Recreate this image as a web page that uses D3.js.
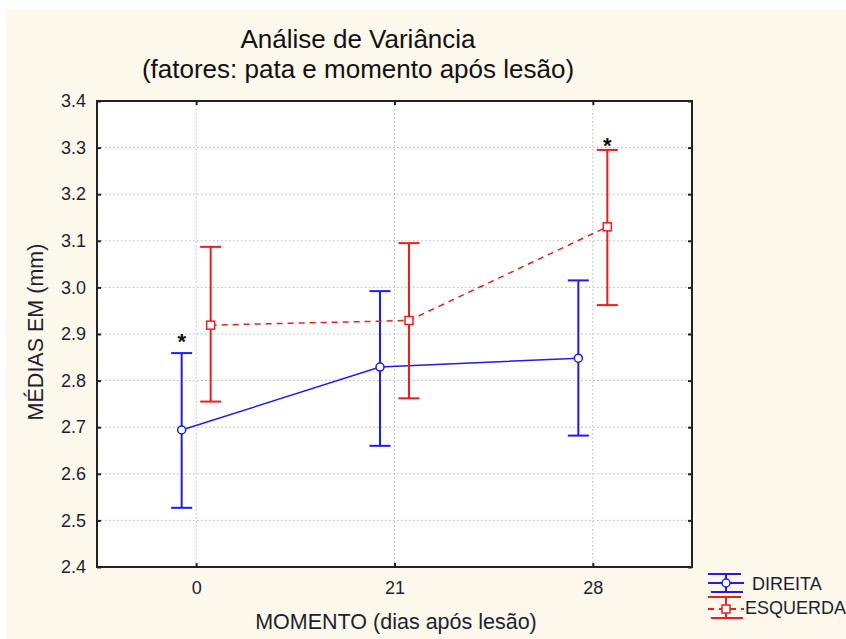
<!DOCTYPE html>
<html>
<head>
<meta charset="utf-8">
<script src="https://cdn.jsdelivr.net/npm/d3@7"></script>
<style>
  html, body { margin: 0; padding: 0; background: #fff; }
  text { font-family: "Liberation Sans", Arial, sans-serif; }
</style>
</head>
<body>
<div id="chart"></div>
<script>
const width = 846;
const height = 639;

// data
const moments = ['0', '21', '28'];
const direitaMean = [2.694, 2.829, 2.848];
const direitaLow = [2.527, 2.660, 2.682];
const direitaHigh = [2.859, 2.992, 3.015];
const esquerdaMean = [2.919, 2.929, 3.130];
const esquerdaLow = [2.755, 2.762, 2.962];
const esquerdaHigh = [3.087, 3.095, 3.295];
const yTicks = [2.4, 2.5, 2.6, 2.7, 2.8, 2.9, 3.0, 3.1, 3.2, 3.3, 3.4];
const starMarks = [{ serie: 'direita', moment: '0', value: 2.896 }, { serie: 'esquerda', moment: '28', value: 3.316 }];

const margin = { left: 97, right: 154, top: 101, bottom: 72 };

const svg = d3.select('#chart')
  .append('svg')
  .attr('width', width)
  .attr('height', height);

// cream background
svg.append('rect')
  .attr('x', 6).attr('y', 10)
  .attr('width', width - 6).attr('height', height - 10)
  .attr('fill', '#fdf8ec');

const x = d3.scalePoint()
  .domain(moments)
  .range([margin.left, width - margin.right])
  .padding(0.5);

const y = d3.scaleLinear()
  .domain([2.4, 3.4])
  .range([height - margin.bottom, margin.top]);

const x0 = margin.left, x1 = width - margin.right;
const y0 = height - margin.bottom, y1 = margin.top;

svg.append('rect')
  .attr('x', x0).attr('y', y1)
  .attr('width', x1 - x0).attr('height', y0 - y1)
  .attr('fill', '#fff');

// grid
const grid = svg.append('g')
  .attr('stroke', '#b8b8b8')
  .attr('stroke-width', 1)
  .attr('stroke-dasharray', '1.5,2.5');

grid.selectAll('.gy')
  .data(yTicks.slice(1, -1))
  .join('line')
  .attr('x1', x0).attr('x2', x1)
  .attr('y1', d => y(d)).attr('y2', d => y(d));

grid.selectAll('.gx')
  .data(moments)
  .join('line')
  .attr('x1', d => x(d)).attr('x2', d => x(d))
  .attr('y1', y1).attr('y2', y0);

// axes (ticks inside)
svg.append('g')
  .attr('transform', `translate(${x0},0)`)
  .call(d3.axisLeft(y).tickValues(yTicks).tickSize(-4).tickFormat(d3.format('.1f')).tickPadding(11))
  .call(g => g.select('.domain').remove())
  .call(g => g.selectAll('line').attr('stroke', '#222').attr('stroke-width', 2))
  .call(g => g.selectAll('text').attr('font-size', 18).attr('fill', '#1e1e30'));

svg.append('g')
  .attr('transform', `translate(${x1},0)`)
  .call(d3.axisRight(y).tickValues(yTicks).tickSize(-4).tickFormat(''))
  .call(g => g.select('.domain').remove())
  .call(g => g.selectAll('line').attr('stroke', '#222').attr('stroke-width', 2));

svg.append('g')
  .attr('transform', `translate(0,${y0})`)
  .call(d3.axisBottom(x).tickSize(-4).tickPadding(14))
  .call(g => g.select('.domain').remove())
  .call(g => g.selectAll('line').attr('stroke', '#222').attr('stroke-width', 2))
  .call(g => g.selectAll('text').attr('font-size', 18).attr('fill', '#1e1e30'));

svg.append('g')
  .attr('transform', `translate(0,${y1})`)
  .call(d3.axisTop(x).tickSize(-4).tickFormat(''))
  .call(g => g.select('.domain').remove())
  .call(g => g.selectAll('line').attr('stroke', '#222').attr('stroke-width', 2));

svg.append('rect')
  .attr('x', x0).attr('y', y1)
  .attr('width', x1 - x0).attr('height', y0 - y1)
  .attr('fill', 'none')
  .attr('stroke', '#222')
  .attr('stroke-width', 2);

// series
const series = [
  { name: 'DIREITA', key: 'direita', color: '#1c1cf5', dx: -14.5, dash: null, shape: 'circle',
    mean: direitaMean, low: direitaLow, high: direitaHigh },
  { name: 'ESQUERDA', key: 'esquerda', color: '#f21c1c', dx: 14.5, dash: '6,5', shape: 'square',
    mean: esquerdaMean, low: esquerdaLow, high: esquerdaHigh }
];

const cap = 10.5;

series.forEach(s => {
  const pts = moments.map((m, i) => ({ m, mean: s.mean[i], low: s.low[i], high: s.high[i] }));
  const g = svg.append('g');

  g.append('path')
    .datum(pts)
    .attr('fill', 'none')
    .attr('stroke', s.color)
    .attr('stroke-width', 1.5)
    .attr('stroke-dasharray', s.dash)
    .attr('d', d3.line().x(d => x(d.m) + s.dx).y(d => y(d.mean)));

  const bars = g.selectAll('.bar').data(pts).join('g')
    .attr('stroke', s.color).attr('stroke-width', 2);
  bars.append('line')
    .attr('x1', d => x(d.m) + s.dx).attr('x2', d => x(d.m) + s.dx)
    .attr('y1', d => y(d.low)).attr('y2', d => y(d.high));
  bars.append('line')
    .attr('x1', d => x(d.m) + s.dx - cap).attr('x2', d => x(d.m) + s.dx + cap)
    .attr('y1', d => y(d.low)).attr('y2', d => y(d.low));
  bars.append('line')
    .attr('x1', d => x(d.m) + s.dx - cap).attr('x2', d => x(d.m) + s.dx + cap)
    .attr('y1', d => y(d.high)).attr('y2', d => y(d.high));

  if (s.shape === 'circle') {
    g.selectAll('.pt').data(pts).join('circle')
      .attr('cx', d => x(d.m) + s.dx).attr('cy', d => y(d.mean))
      .attr('r', 4).attr('fill', '#fff').attr('stroke', s.color).attr('stroke-width', 1.5);
  } else {
    g.selectAll('.pt').data(pts).join('rect')
      .attr('x', d => x(d.m) + s.dx - 4).attr('y', d => y(d.mean) - 4)
      .attr('width', 8).attr('height', 8)
      .attr('fill', '#fff').attr('stroke', s.color).attr('stroke-width', 1.5);
  }
});

// significance stars (value = centre of the star)
svg.selectAll('.star')
  .data(starMarks)
  .join('text')
  .attr('x', d => x(d.moment) + series.find(s => s.key === d.serie).dx)
  .attr('y', d => y(d.value) + 13)
  .attr('text-anchor', 'middle')
  .attr('font-size', 22)
  .attr('font-weight', 'bold')
  .attr('fill', '#111')
  .text('*');

// titles
svg.append('text')
  .attr('x', 358).attr('y', 48)
  .attr('text-anchor', 'middle')
  .attr('font-size', 26)
  .attr('fill', '#111')
  .text('Análise de Variância');

svg.append('text')
  .attr('x', 358).attr('y', 78)
  .attr('text-anchor', 'middle')
  .attr('font-size', 26)
  .attr('fill', '#111')
  .text('(fatores: pata e momento após lesão)');

svg.append('text')
  .attr('x', 396).attr('y', 629)
  .attr('text-anchor', 'middle')
  .attr('font-size', 21.5)
  .attr('fill', '#1e1e30')
  .text('MOMENTO (dias após lesão)');

svg.append('text')
  .attr('transform', 'translate(43,332) rotate(-90)')
  .attr('text-anchor', 'middle')
  .attr('font-size', 21.5)
  .attr('fill', '#1e1e30')
  .text('MÉDIAS EM (mm)');

// legend
const lg = svg.append('g');
const legendRows = [
  { s: series[0], top: 574, mid: 583, bot: 592, tx: 752, ty: 590 },
  { s: series[1], top: 597, mid: 609, bot: 618, tx: 745, ty: 614 }
];
legendRows.forEach(r => {
  const c = r.s.color, cx = 726;
  const g = lg.append('g').attr('stroke', c).attr('stroke-width', 2);
  g.append('line').attr('x1', 708).attr('x2', 741).attr('y1', r.top).attr('y2', r.top);
  g.append('line').attr('x1', 711).attr('x2', 743).attr('y1', r.bot).attr('y2', r.bot);
  g.append('line').attr('x1', cx).attr('x2', cx).attr('y1', r.top).attr('y2', r.bot);
  g.append('line').attr('x1', 708).attr('x2', 744).attr('y1', r.mid).attr('y2', r.mid)
    .attr('stroke-dasharray', r.s.dash);
  if (r.s.shape === 'circle') {
    g.append('circle').attr('cx', cx).attr('cy', r.mid).attr('r', 4).attr('fill', '#fff').attr('stroke-width', 1.5);
  } else {
    g.append('rect').attr('x', cx - 4).attr('y', r.mid - 4).attr('width', 8).attr('height', 8)
      .attr('fill', '#fff').attr('stroke-width', 1.5);
  }
  lg.append('text')
    .attr('x', r.tx).attr('y', r.ty)
    .attr('font-size', 18)
    .attr('fill', '#1e1e30')
    .text(r.s.name);
});
</script>
</body>
</html>
